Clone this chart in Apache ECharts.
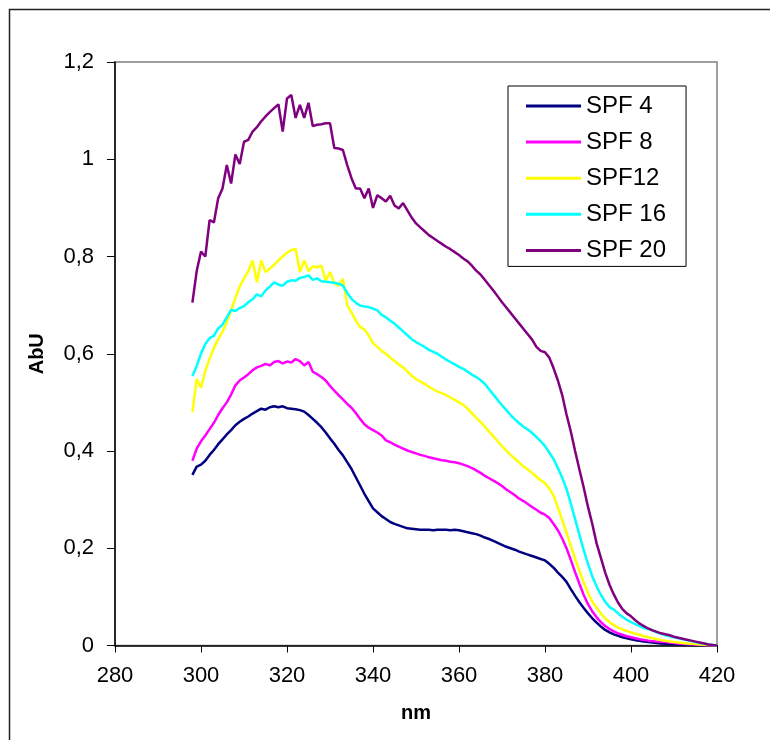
<!DOCTYPE html>
<html>
<head>
<meta charset="utf-8">
<script src="https://cdn.jsdelivr.net/npm/echarts@6/dist/echarts.min.js"></script>
<style>
  html, body { margin: 0; padding: 0; background: #fff; }
  #main { width: 770px; height: 740px; }
</style>
</head>
<body>
<div id="main"></div>
<script>
// wavelengths, 1 nm steps 298..420
var nm = [];
for (var w = 298; w <= 420; w++) nm.push(w);

var xTicks = [280, 300, 320, 340, 360, 380, 400, 420];
var yTicks = [0, 0.2, 0.4, 0.6, 0.8, 1, 1.2];
var seriesNames = ['SPF 4', 'SPF 8', 'SPF12', 'SPF 16', 'SPF 20'];

var spf4 = [
  0.351, 0.368, 0.372, 0.380, 0.392, 0.402, 0.414, 0.424, 0.434, 0.443,
  0.453, 0.460, 0.466, 0.471, 0.477, 0.482, 0.487, 0.485, 0.490, 0.492,
  0.490, 0.492, 0.488, 0.487, 0.486, 0.484, 0.481, 0.474, 0.466, 0.458,
  0.449, 0.438, 0.426, 0.415, 0.402, 0.391, 0.377, 0.363, 0.346, 0.329,
  0.312, 0.297, 0.282, 0.274, 0.266, 0.260, 0.254, 0.250, 0.247, 0.244,
  0.241, 0.240, 0.239, 0.238, 0.238, 0.238, 0.237, 0.238, 0.238, 0.238,
  0.237, 0.238, 0.237, 0.235, 0.233, 0.231, 0.229, 0.226, 0.222, 0.219,
  0.215, 0.211, 0.207, 0.203, 0.200, 0.197, 0.193, 0.190, 0.187, 0.184,
  0.181, 0.178, 0.175, 0.168, 0.160, 0.150, 0.141, 0.131, 0.116, 0.102,
  0.089, 0.077, 0.066, 0.056, 0.047, 0.039, 0.032, 0.027, 0.023, 0.020,
  0.017, 0.015, 0.013, 0.011, 0.0095, 0.008, 0.007, 0.006, 0.005, 0.0042,
  0.0035, 0.003, 0.0025, 0.002, 0.0018, 0.0015, 0.0012, 0.001, 0.0008, 0.0006,
  0.0004, 0.0002, 0
];
var spf8 = [
  0.380, 0.405, 0.420, 0.432, 0.445, 0.458, 0.474, 0.488, 0.500, 0.516,
  0.535, 0.545, 0.551, 0.558, 0.566, 0.572, 0.575, 0.579, 0.576, 0.583,
  0.585, 0.580, 0.584, 0.582, 0.589, 0.585, 0.576, 0.583, 0.563, 0.558,
  0.552, 0.545, 0.534, 0.524, 0.515, 0.506, 0.497, 0.489, 0.478, 0.466,
  0.455, 0.448, 0.443, 0.438, 0.432, 0.422, 0.418, 0.413, 0.409, 0.405,
  0.401, 0.398, 0.395, 0.392, 0.390, 0.387, 0.385, 0.383, 0.381, 0.380,
  0.378, 0.377, 0.375, 0.372, 0.369, 0.365, 0.360, 0.355, 0.349, 0.344,
  0.339, 0.334, 0.328, 0.321, 0.315, 0.309, 0.302, 0.297, 0.291, 0.285,
  0.279, 0.273, 0.269, 0.262, 0.250, 0.237, 0.220, 0.200, 0.176, 0.151,
  0.127, 0.104, 0.085, 0.070, 0.058, 0.048, 0.040, 0.034, 0.029, 0.025,
  0.022, 0.019, 0.017, 0.015, 0.013, 0.0115, 0.010, 0.009, 0.008, 0.0075,
  0.007, 0.006, 0.005, 0.004, 0.0035, 0.003, 0.0025, 0.002, 0.0015, 0.001,
  0.0006, 0.0003, 0
];
var spf12 = [
  0.480, 0.548, 0.530, 0.565, 0.590, 0.612, 0.630, 0.645, 0.665, 0.690,
  0.715, 0.738, 0.755, 0.770, 0.792, 0.747, 0.792, 0.768, 0.775, 0.783,
  0.792, 0.800, 0.808, 0.813, 0.816, 0.768, 0.792, 0.770, 0.780, 0.778,
  0.781, 0.750, 0.768, 0.745, 0.740, 0.754, 0.700, 0.685, 0.668, 0.655,
  0.650, 0.638, 0.622, 0.614, 0.606, 0.600, 0.592, 0.585, 0.578, 0.572,
  0.563, 0.555, 0.548, 0.543, 0.538, 0.532, 0.527, 0.522, 0.519, 0.515,
  0.510, 0.505, 0.500, 0.495, 0.487, 0.478, 0.468, 0.460, 0.450, 0.440,
  0.430, 0.420, 0.410, 0.401, 0.392, 0.384, 0.376, 0.368, 0.362, 0.355,
  0.347, 0.340, 0.334, 0.323, 0.308, 0.284, 0.258, 0.232, 0.205, 0.178,
  0.154, 0.130, 0.108, 0.090, 0.078, 0.066, 0.056, 0.048, 0.042, 0.037,
  0.033, 0.030, 0.027, 0.024, 0.022, 0.019, 0.017, 0.015, 0.013, 0.011,
  0.010, 0.008, 0.007, 0.006, 0.005, 0.004, 0.0035, 0.003, 0.002, 0.0015,
  0.001, 0.0005, 0
];
var spf16 = [
  0.554, 0.575, 0.600, 0.620, 0.632, 0.637, 0.652, 0.660, 0.675, 0.690,
  0.688, 0.694, 0.698, 0.706, 0.712, 0.722, 0.718, 0.730, 0.738, 0.747,
  0.742, 0.740, 0.748, 0.751, 0.750, 0.756, 0.758, 0.761, 0.752, 0.755,
  0.749, 0.748, 0.747, 0.746, 0.744, 0.740, 0.725, 0.713, 0.705, 0.699,
  0.697, 0.696, 0.693, 0.689, 0.680, 0.675, 0.668, 0.662, 0.654, 0.646,
  0.638, 0.630, 0.624, 0.619, 0.614, 0.608, 0.604, 0.600, 0.594, 0.588,
  0.583, 0.578, 0.573, 0.569, 0.563, 0.557, 0.552, 0.546, 0.538, 0.527,
  0.516, 0.505, 0.494, 0.484, 0.474, 0.465, 0.457, 0.450, 0.444, 0.437,
  0.429, 0.420, 0.410, 0.397, 0.383, 0.365, 0.345, 0.322, 0.292, 0.260,
  0.228, 0.196, 0.168, 0.142, 0.122, 0.104, 0.090, 0.079, 0.074, 0.066,
  0.059, 0.053, 0.048, 0.044, 0.040, 0.036, 0.034, 0.031, 0.027, 0.024,
  0.021, 0.019, 0.017, 0.015, 0.013, 0.011, 0.009, 0.007, 0.005, 0.004,
  0.002, 0.001, 0
];
var spf20 = [
  0.705, 0.770, 0.810, 0.800, 0.875, 0.870, 0.920, 0.940, 0.988, 0.950,
  1.010, 0.990, 1.036, 1.040, 1.057, 1.066, 1.078, 1.088, 1.097, 1.105,
  1.113, 1.057, 1.125, 1.132, 1.085, 1.112, 1.085, 1.116, 1.068, 1.071,
  1.072, 1.074, 1.074, 1.023, 1.022, 1.019, 0.988, 0.961, 0.940, 0.940,
  0.920, 0.940, 0.900, 0.926, 0.920, 0.913, 0.925, 0.905, 0.899, 0.910,
  0.895, 0.880, 0.868, 0.860, 0.852, 0.844, 0.838, 0.832, 0.826, 0.820,
  0.815, 0.809, 0.803, 0.796, 0.790, 0.781, 0.771, 0.763, 0.752, 0.741,
  0.730, 0.718, 0.706, 0.695, 0.684, 0.673, 0.662, 0.651, 0.640, 0.629,
  0.614, 0.606, 0.603, 0.592, 0.570, 0.545, 0.515, 0.475, 0.440, 0.400,
  0.362, 0.325, 0.285, 0.250, 0.210, 0.180, 0.150, 0.125, 0.105, 0.088,
  0.075, 0.066, 0.060, 0.052, 0.045, 0.040, 0.035, 0.031, 0.028, 0.025,
  0.023, 0.021, 0.018, 0.016, 0.014, 0.012, 0.010, 0.008, 0.006, 0.004,
  0.002, 0.001, 0
];

var colors = ['#000080', '#FF00FF', '#FFFF00', '#00FFFF', '#800080'];
var values = [spf4, spf8, spf12, spf16, spf20];

function pairs(arr) {
  return nm.map(function (x, i) { return [x, arr[i]]; });
}

var font = "'Liberation Sans', Arial, sans-serif";

var myChart = echarts.init(document.getElementById('main'));
var option = {
  animation: false,
  backgroundColor: '#fff',
  graphic: [{
    type: 'rect',
    shape: { x: 9.5, y: 9.5, width: 800, height: 800 },
    style: { fill: 'none', stroke: '#222', lineWidth: 1.5 },
    silent: true
  }],
  grid: {
    left: 115, top: 62, width: 602, height: 583.5,
    show: true, borderColor: '#808080', borderWidth: 1.5,
    backgroundColor: '#fff'
  },
  legend: {
    data: seriesNames,
    orient: 'vertical',
    left: 508, top: 86,
    padding: [8, 20, 4, 18],
    itemGap: 12.1,
    itemWidth: 55, itemHeight: 3,
    icon: 'rect',
    backgroundColor: '#fff',
    borderColor: '#000', borderWidth: 1,
    textStyle: { fontFamily: font, fontSize: 24, color: '#000', lineHeight: 22 }
  },
  xAxis: {
    type: 'value',
    min: xTicks[0], max: xTicks[xTicks.length - 1], interval: 20,
    name: 'nm', nameLocation: 'middle', nameGap: 58,
    nameTextStyle: { fontFamily: font, fontSize: 20, fontWeight: 'bold', color: '#000' },
    axisLine: { lineStyle: { color: '#000', width: 1.5 } },
    axisTick: { inside: false, length: 7, lineStyle: { color: '#000' } },
    axisLabel: { margin: 19, fontFamily: font, fontSize: 22, color: '#000' },
    splitLine: { show: false }
  },
  yAxis: {
    type: 'value',
    min: yTicks[0], max: yTicks[yTicks.length - 1], interval: 0.2,
    name: 'AbU', nameLocation: 'middle', nameGap: 68,
    nameTextStyle: { fontFamily: font, fontSize: 20, fontWeight: 'bold', color: '#000' },
    axisLine: { show: true, lineStyle: { color: '#000', width: 1.5 } },
    axisTick: { show: true, inside: false, length: 8, lineStyle: { color: '#000' } },
    axisLabel: {
      margin: 21, fontFamily: font, fontSize: 22, color: '#000',
      formatter: function (v) { return String(Math.round(v * 10) / 10).replace('.', ','); }
    },
    splitLine: { show: false }
  },
  series: seriesNames.map(function (name, i) {
    return {
      name: name,
      type: 'line',
      data: pairs(values[i]),
      showSymbol: false,
      color: colors[i],
      lineStyle: { color: colors[i], width: 2.5 }
    };
  })
};
myChart.setOption(option);
</script>
</body>
</html>
